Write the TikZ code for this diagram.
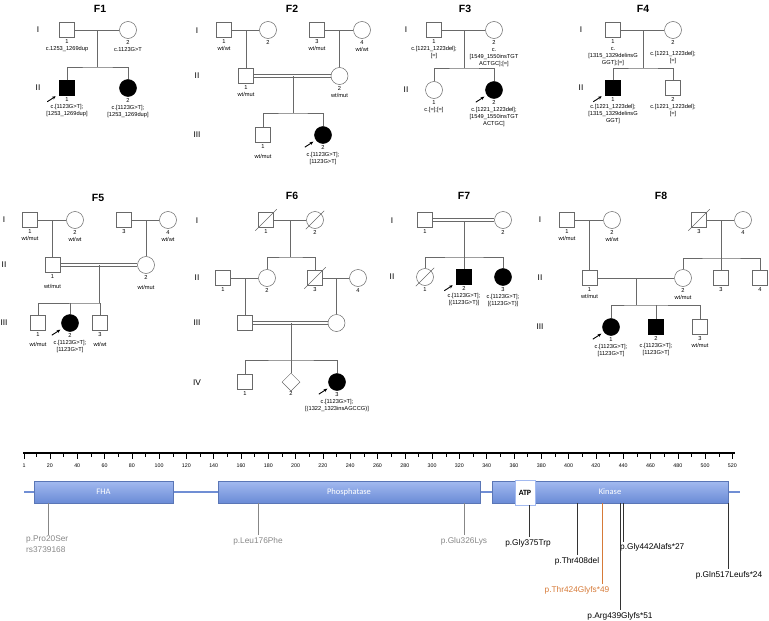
\documentclass[tikz,border=0pt]{standalone}
\usepackage{fontspec}
\setmainfont{Liberation Sans}
\newfontfamily\domainfont{Carlito}
\usepackage{tikz}
\usetikzlibrary{shapes.geometric}
\usetikzlibrary{arrows.meta, positioning, calc}
\usepackage{xcolor}
\definecolor{pedGray}{RGB}{105,105,105}
\definecolor{domainTop}{RGB}{163,186,240}
\definecolor{domainBottom}{RGB}{106,139,214}
\definecolor{backboneBlue}{RGB}{112,142,212}
\definecolor{variantGray}{RGB}{135,135,135}
\definecolor{variantOrange}{RGB}{214,122,56}
\tikzset{
    male/.style={rectangle, draw=pedGray, line width=0.5pt, minimum size=15pt, inner sep=0pt},
    female/.style={circle, draw=pedGray, line width=0.5pt, minimum size=17pt, inner sep=0pt},
    sexunknown/.style={diamond, draw=pedGray, line width=0.5pt, minimum width=18pt, minimum height=18pt, inner sep=0pt},
    affected/.style={fill=black, draw=black},
    rel/.style={draw=pedGray, line width=0.5pt},
    proband/.style={-{Stealth[length=3.6pt, width=3.2pt]}, line width=0.9pt},
    famname/.style={font=\bfseries\fontsize{10.5}{12}\selectfont},
    gen/.style={font=\fontsize{8.3}{9}\selectfont},
    info/.style={font=\fontsize{5.7}{7}\selectfont, align=center, inner sep=0pt},
    protdomain/.style={rectangle, inner sep=0pt, top color=domainTop, bottom color=domainBottom, draw=domainBottom!85!black, line width=0.3pt, text=white, font=\domainfont\fontsize{8.5}{10}\selectfont},
    atpbox/.style={rectangle, inner sep=0pt, fill=white, draw=domainTop, line width=0.4pt, font=\domainfont\bfseries\fontsize{8}{10}\selectfont},
    ticklabel/.style={font=\fontsize{5.3}{6}\selectfont, inner sep=0pt},
    variant/.style={font=\fontsize{8.3}{10}\selectfont, inner sep=0pt},
    varline/.style={line width=0.7pt, draw=black!80}
}
\newcommand{\deceased}[1]{\draw[rel] ([shift={(-3pt,-3pt)}]#1.south west) -- ([shift={(3pt,3pt)}]#1.north east);}
\newcommand{\probandarrow}[1]{\draw[proband] ([shift={(-12pt,-6pt)}]#1.south west) -- ([shift={(-3.5pt,-0.5pt)}]#1.south west);}
\newcommand{\consanguine}[2]{%
    \draw[rel] ([yshift=1.3pt]#1.east) -- ([yshift=1.3pt]#2.west);
    \draw[rel] ([yshift=-1.3pt]#1.east) -- ([yshift=-1.3pt]#2.west);}

\begin{document}
\begin{tikzpicture}[x=1pt, y=-1pt]
    \useasboundingbox (0,0) rectangle (769,621);

    % ---------------- F1 ----------------
    \node[famname] (f1) at (100,9) {F1};
    \node[gen] (f1g1) at (38,30) {I};
    \node[gen] (f1g2) at (38,88) {II};
    \node[male] (f1i1) at (67,30) {};
    \node[female] (f1i2) at (128,30) {};
    \node[male, affected] (f1ii1) at (67,88) {};
    \node[female, affected] (f1ii2) at (128,88) {};
    \draw[rel] (f1i1) -- (f1i2);
    \coordinate (f1m) at ($(f1i1)!0.5!(f1i2)$);
    \coordinate (f1s) at ($(f1m)+(0,37)$);
    \draw[rel] (f1m) -- (f1s);
    \draw[rel] (f1ii1.north) |- (f1s) -| (f1ii2.north);
    \node[info, below=1.5pt of f1i1] (f1t1) {1\\c.1253\_1269dup};
    \node[info, below=1.5pt of f1i2] (f1t2) {2\\c.1123G>T};
    \node[info, below=1.5pt of f1ii1] (f1t3) {1\\c.[1123G>T];\\{}[1253\_1269dup]};
    \node[info, below=1.5pt of f1ii2] (f1t4) {2\\c.[1123G>T];\\{}[1253\_1269dup]};
    \probandarrow{f1ii1}

    % ---------------- F2 ----------------
    \node[famname] (f2) at (292,9) {F2};
    \node[gen] (f2g1) at (197,31) {I};
    \node[gen] (f2g2) at (197,76) {II};
    \node[gen] (f2g3) at (197,135) {III};
    \node[male] (f2i1) at (224,30) {};
    \node[female] (f2i2) at (268,30) {};
    \node[male] (f2i3) at (317,30) {};
    \node[female] (f2i4) at (362,30) {};
    \node[male] (f2ii1) at (246,76) {};
    \node[female] (f2ii2) at (339.5,76) {};
    \node[male] (f2iii1) at (263,135) {};
    \node[female, affected] (f2iii2) at (323,135) {};
    \draw[rel] (f2i1) -- (f2i2);
    \draw[rel] (f2i3) -- (f2i4);
    \coordinate (f2m1) at ($(f2i1)!0.5!(f2i2)$);
    \coordinate (f2m2) at ($(f2i3)!0.5!(f2i4)$);
    \draw[rel] (f2m1) -- (f2ii1.north);
    \draw[rel] (f2m2) -- (f2ii2.north);
    \consanguine{f2ii1}{f2ii2}
    \coordinate (f2m3) at ($(f2ii1)!0.5!(f2ii2)$);
    \coordinate (f2s) at ($(f2m3)+(0,37)$);
    \draw[rel] (f2m3) -- (f2s);
    \draw[rel] (f2iii1.north) |- (f2s) -| (f2iii2.north);
    \node[info, below=1.5pt of f2i1] (f2t1) {1\\wt/wt};
    \node[info, below=1.5pt of f2i2] (f2t2) {2};
    \node[info, below=1.5pt of f2i3] (f2t3) {3\\wt/mut};
    \node[info, below=1.5pt of f2i4] (f2t4) {4\\wt/wt};
    \node[info, below=1.5pt of f2ii1] (f2t5) {1\\wt/mut};
    \node[info, below=1.5pt of f2ii2] (f2t6) {2\\wt/mut};
    \node[info, below=1.5pt of f2iii1] (f2t7) {1\\[3pt]wt/mut};
    \node[info, below=1.5pt of f2iii2] (f2t8) {2\\c.[1123G>T];\\{}[1123G>T]};
    \probandarrow{f2iii2}

    % ---------------- F3 ----------------
    \node[famname] (f3) at (465,9) {F3};
    \node[gen] (f3g1) at (406,30) {I};
    \node[gen] (f3g2) at (406,90) {II};
    \node[male] (f3i1) at (434,30) {};
    \node[female] (f3i2) at (494,30) {};
    \node[female] (f3ii1) at (434,90) {};
    \node[female, affected] (f3ii2) at (494,90) {};
    \draw[rel] (f3i1) -- (f3i2);
    \coordinate (f3m) at ($(f3i1)!0.5!(f3i2)$);
    \coordinate (f3s) at ($(f3m)+(0,38)$);
    \draw[rel] (f3m) -- (f3s);
    \draw[rel] (f3ii1.north) |- (f3s) -| (f3ii2.north);
    \node[info, below=1.5pt of f3i1] (f3t1) {1\\c.[1221\_1223del];\\{}[=]};
    \node[info, below=1.5pt of f3i2] (f3t2) {2\\c.\\{}[1549\_1550insTGT\\ACTGC];[=]};
    \node[info, below=1.5pt of f3ii1] (f3t3) {1\\c.[=];[=]};
    \node[info, below=1.5pt of f3ii2] (f3t4) {2\\c.[1221\_1223del];\\{}[1549\_1550insTGT\\ACTGC]};
    \probandarrow{f3ii2}

    % ---------------- F4 ----------------
    \node[famname] (f4) at (643,9) {F4};
    \node[gen] (f4g1) at (581,30) {I};
    \node[gen] (f4g2) at (581,88) {II};
    \node[male] (f4i1) at (613,30) {};
    \node[female] (f4i2) at (673,30) {};
    \node[male, affected] (f4ii1) at (613,88) {};
    \node[male] (f4ii2) at (673,88) {};
    \draw[rel] (f4i1) -- (f4i2);
    \coordinate (f4m) at ($(f4i1)!0.5!(f4i2)$);
    \coordinate (f4s) at ($(f4m)+(0,38)$);
    \draw[rel] (f4m) -- (f4s);
    \draw[rel] (f4ii1.north) |- (f4s) -| (f4ii2.north);
    \node[info, below=1.5pt of f4i1] (f4t1) {1\\c.\\{}[1315\_1329delinsG\\GGT];[=]};
    \node[info, below=1.5pt of f4i2] (f4t2) {2\\[4pt]c.[1221\_1223del];\\{}[=]};
    \node[info, below=1.5pt of f4ii1] (f4t3) {1\\c.[1221\_1223del];\\{}[1315\_1329delinsG\\GGT]};
    \node[info, below=1.5pt of f4ii2] (f4t4) {2\\c.[1221\_1223del];\\{}[=]};
    \probandarrow{f4ii1}

    % ---------------- F5 ----------------
    \node[famname] (f5) at (98,198) {F5};
    \node[gen] (f5g1) at (4,220) {I};
    \node[gen] (f5g2) at (4,265) {II};
    \node[gen] (f5g3) at (4,323) {III};
    \node[male] (f5i1) at (30,220) {};
    \node[female] (f5i2) at (75,220) {};
    \node[male] (f5i3) at (124,220) {};
    \node[female] (f5i4) at (168,220) {};
    \node[male] (f5ii1) at (52.5,265) {};
    \node[female] (f5ii2) at (146,265) {};
    \node[male] (f5iii1) at (38,323) {};
    \node[female, affected] (f5iii2) at (70,323) {};
    \node[male] (f5iii3) at (100,323) {};
    \draw[rel] (f5i1) -- (f5i2);
    \draw[rel] (f5i3) -- (f5i4);
    \coordinate (f5m1) at ($(f5i1)!0.5!(f5i2)$);
    \coordinate (f5m2) at ($(f5i3)!0.5!(f5i4)$);
    \draw[rel] (f5m1) -- (f5ii1.north);
    \draw[rel] (f5m2) -- (f5ii2.north);
    \consanguine{f5ii1}{f5ii2}
    \coordinate (f5m3) at ($(f5ii1)!0.5!(f5ii2)$);
    \coordinate (f5s) at ($(f5m3)+(0,38)$);
    \draw[rel] (f5m3) -- (f5s);
    \draw[rel] (f5iii1.north) |- (f5s) -| (f5iii3.north);
    \draw[rel] (f5iii2.north) -- (f5iii2 |- f5s);
    \node[info, below=1.5pt of f5i1] (f5t1) {1\\wt/mut};
    \node[info, below=1.5pt of f5i2] (f5t2) {2\\wt/wt};
    \node[info, below=1.5pt of f5i3] (f5t3) {3};
    \node[info, below=1.5pt of f5i4] (f5t4) {4\\wt/wt};
    \node[info, below=1.5pt of f5ii1] (f5t5) {1\\[3pt]wt/mut};
    \node[info, below=1.5pt of f5ii2] (f5t6) {2\\[3pt]wt/mut};
    \node[info, below=1.5pt of f5iii1] (f5t7) {1\\[3pt]wt/mut};
    \node[info, below=1.5pt of f5iii2] (f5t8) {2\\c.[1123G>T];\\{}[1123G>T]};
    \node[info, below=1.5pt of f5iii3] (f5t9) {3\\[3pt]wt/wt};
    \probandarrow{f5iii2}

    % ---------------- F6 ----------------
    \node[famname] (f6) at (292,196) {F6};
    \node[gen] (f6g1) at (197,221) {I};
    \node[gen] (f6g2) at (197,278) {II};
    \node[gen] (f6g3) at (197,323) {III};
    \node[gen] (f6g4) at (197,383) {IV};
    \node[male] (f6i1) at (266,220) {};
    \node[female] (f6i2) at (315,220) {};
    \node[male] (f6ii1) at (223,278) {};
    \node[female] (f6ii2) at (267,278) {};
    \node[male] (f6ii3) at (315,278) {};
    \node[female] (f6ii4) at (358,278) {};
    \node[male] (f6iii1) at (245,323) {};
    \node[female] (f6iii2) at (336.5,323) {};
    \node[male] (f6iv1) at (245,382) {};
    \node[sexunknown] (f6iv2) at (291,382) {};
    \node[female, affected] (f6iv3) at (337,382) {};
    \deceased{f6i1}
    \deceased{f6i2}
    \deceased{f6ii3}
    \draw[rel] (f6i1) -- (f6i2);
    \coordinate (f6m1) at ($(f6i1)!0.5!(f6i2)$);
    \coordinate (f6s1) at ($(f6m1)+(0,37)$);
    \draw[rel] (f6m1) -- (f6s1);
    \draw[rel] (f6ii2.north) |- (f6s1) -| (f6ii3.north);
    \draw[rel] (f6ii1) -- (f6ii2);
    \draw[rel] (f6ii3) -- (f6ii4);
    \coordinate (f6m2) at ($(f6ii1)!0.5!(f6ii2)$);
    \coordinate (f6m3) at ($(f6ii3)!0.5!(f6ii4)$);
    \draw[rel] (f6m2) -- (f6iii1.north);
    \draw[rel] (f6m3) -- (f6iii2.north);
    \consanguine{f6iii1}{f6iii2}
    \coordinate (f6m4) at ($(f6iii1)!0.5!(f6iii2)$);
    \coordinate (f6s2) at ($(f6m4)+(0,37)$);
    \draw[rel] (f6m4) -- (f6s2);
    \draw[rel] (f6iv1.north) |- (f6s2) -| (f6iv3.north);
    \draw[rel] (f6iv2.north) -- (f6iv2 |- f6s2);
    \node[info, below=1.5pt of f6i1] (f6t1) {1};
    \node[info, below=1.5pt of f6i2] (f6t2) {2};
    \node[info, below=1.5pt of f6ii1] (f6t3) {1};
    \node[info, below=1.5pt of f6ii2] (f6t4) {2};
    \node[info, below=1.5pt of f6ii3] (f6t5) {3};
    \node[info, below=1.5pt of f6ii4] (f6t6) {4};
    \node[info, below=1.5pt of f6iv1] (f6t7) {1};
    \node[info, below=0pt of f6iv2] (f6t8) {2};
    \node[info, below=1.5pt of f6iv3] (f6t9) {3\\c.[1123G>T];\\{}[(1322\_1323insAGCCG)]};
    \probandarrow{f6iv3}

    % ---------------- F7 ----------------
    \node[famname] (f7) at (464,196) {F7};
    \node[gen] (f7g1) at (392,221) {I};
    \node[gen] (f7g2) at (392,277) {II};
    \node[male] (f7i1) at (425,220) {};
    \node[female] (f7i2) at (503,220) {};
    \node[female] (f7ii1) at (425,277) {};
    \node[male, affected] (f7ii2) at (464,277) {};
    \node[female, affected] (f7ii3) at (503,277) {};
    \deceased{f7ii1}
    \consanguine{f7i1}{f7i2}
    \coordinate (f7m) at ($(f7i1)!0.5!(f7i2)$);
    \coordinate (f7s) at ($(f7m)+(0,37)$);
    \draw[rel] ([yshift=-1.3pt]f7m) -- (f7ii2.north);
    \draw[rel] (f7ii1.north) |- (f7s) -| (f7ii3.north);
    \node[info, below=1.5pt of f7i1] (f7t1) {1};
    \node[info, below=1.5pt of f7i2] (f7t2) {2};
    \node[info, below=1.5pt of f7ii1] (f7t3) {1};
    \node[info, below=1.5pt of f7ii2] (f7t4) {2\\c.[1123G>T];\\{}[(1123G>T)]};
    \node[info, below=1.5pt of f7ii3] (f7t5) {3\\c.[1123G>T];\\{}[(1123G>T)]};
    \probandarrow{f7ii2}

    % ---------------- F8 ----------------
    \node[famname] (f8) at (661,196) {F8};
    \node[gen] (f8g1) at (540,220) {I};
    \node[gen] (f8g2) at (540,278) {II};
    \node[gen] (f8g3) at (540,327) {III};
    \node[male] (f8i1) at (567,220) {};
    \node[female] (f8i2) at (612,220) {};
    \node[male] (f8i3) at (699,220) {};
    \node[female] (f8i4) at (743,220) {};
    \node[male] (f8ii1) at (589.5,278) {};
    \node[female] (f8ii2) at (683,278) {};
    \node[male] (f8ii3) at (721,278) {};
    \node[male] (f8ii4) at (760,278) {};
    \node[female, affected] (f8iii1) at (611,327) {};
    \node[male, affected] (f8iii2) at (656,327) {};
    \node[male] (f8iii3) at (700,327) {};
    \deceased{f8i3}
    \draw[rel] (f8i1) -- (f8i2);
    \draw[rel] (f8i3) -- (f8i4);
    \coordinate (f8m1) at ($(f8i1)!0.5!(f8i2)$);
    \coordinate (f8m2) at ($(f8i3)!0.5!(f8i4)$);
    \coordinate (f8s1) at ($(f8m2)+(0,38)$);
    \draw[rel] (f8m1) -- (f8ii1.north);
    \draw[rel] (f8m2) -- (f8s1);
    \draw[rel] (f8ii2.north) |- (f8s1) -| (f8ii4.north);
    \draw[rel] (f8ii3.north) -- (f8ii3 |- f8s1);
    \draw[rel] (f8ii1) -- (f8ii2);
    \coordinate (f8m3) at ($(f8ii1)!0.5!(f8ii2)$);
    \coordinate (f8s2) at ($(f8m3)+(0,27)$);
    \draw[rel] (f8m3) -- (f8s2);
    \draw[rel] (f8iii1.north) |- (f8s2) -| (f8iii3.north);
    \draw[rel] (f8iii2.north) -- (f8iii2 |- f8s2);
    \node[info, below=1.5pt of f8i1] (f8t1) {1\\wt/mut};
    \node[info, below=1.5pt of f8i2] (f8t2) {2\\wt/wt};
    \node[info, below=1.5pt of f8i3] (f8t3) {3};
    \node[info, below=1.5pt of f8i4] (f8t4) {4};
    \node[info, below=1.5pt of f8ii1] (f8t5) {1\\wt/mut};
    \node[info, below=1.5pt of f8ii2] (f8t6) {2\\wt/mut};
    \node[info, below=1.5pt of f8ii3] (f8t7) {3};
    \node[info, below=1.5pt of f8ii4] (f8t8) {4};
    \node[info, below=1.5pt of f8iii1] (f8t9) {1\\c.[1123G>T];\\{}[1123G>T]};
    \node[info, below=1.5pt of f8iii2] (f8t10) {2\\c.[1123G>T];\\{}[1123G>T]};
    \node[info, below=1.5pt of f8iii3] (f8t11) {3\\wt/mut};
    \probandarrow{f8iii1}

    % ---------------- residue ruler ----------------
    \draw[line width=2.6pt] (23,453) -- (735,453);
    \draw[line width=0.5pt] (24,453) -- (24,459);
    \node[ticklabel] (r1) at (24,466) {1};
    \foreach \n in {10,20,...,520}{
        \pgfmathsetmacro{\tx}{22.6+1.365*\n}
        \pgfmathtruncatemacro{\major}{mod(\n,20)==0}
        \ifnum\major=1
            \draw[line width=0.5pt] (\tx,453) -- (\tx,459);
            \node[ticklabel] (r\n) at (\tx,466) {\n};
        \else
            \draw[line width=0.4pt] (\tx,453) -- (\tx,457);
        \fi
    }

    % ---------------- protein domains ----------------
    \draw[backboneBlue, line width=1.4pt] (24,492) -- (740,492);
    \node[protdomain, minimum width=139pt, minimum height=22pt] (fha) at (103.5,492) {FHA};
    \node[protdomain, minimum width=262pt, minimum height=22pt] (phos) at (349,492) {Phosphatase};
    \node[protdomain, minimum width=236pt, minimum height=22pt] (kin) at (610,492) {Kinase};
    \node[atpbox, minimum width=20pt, minimum height=25pt] (atp) at (525,492.5) {ATP};

    % ---------------- variants ----------------
    \node[variant, text=variantGray, align=left, anchor=north west] (v20) at (26,536) {p.Pro20Ser\\rs3739168};
    \node[variant, text=variantGray] (v176) at (258,541) {p.Leu176Phe};
    \node[variant, text=variantGray] (v326) at (464,541) {p.Glu326Lys};
    \node[variant] (v375) at (528,543) {p.Gly375Trp};
    \node[variant] (v408) at (577,561) {p.Thr408del};
    \node[variant, text=variantOrange] (v424) at (577,590) {p.Thr424Glyfs*49};
    \node[variant] (v439) at (620,616) {p.Arg439Glyfs*51};
    \node[variant, anchor=west] (v442) at (620,547) {p.Gly442Alafs*27};
    \node[variant] (v517) at (729,575) {p.Gln517Leufs*24};
    \coordinate (m20) at (48,503);
    \coordinate (m176) at (258,503);
    \coordinate (m326) at (464,503);
    \coordinate (m375) at (529,505);
    \coordinate (m408) at (577,503);
    \coordinate (m424) at (602,503);
    \coordinate (m439) at (620,503);
    \coordinate (m442) at (623.5,503);
    \coordinate (m517) at (728,503);
    \draw[varline, draw=variantGray] (m20) -- ([yshift=1pt]m20 |- v20.north);
    \draw[varline, draw=variantGray] (m176) -- ([yshift=2pt]m176 |- v176.north);
    \draw[varline, draw=variantGray] (m326) -- ([yshift=2pt]m326 |- v326.north);
    \draw[varline] (m375) -- ([yshift=2pt]m375 |- v375.north);
    \draw[varline] (m408) -- ([yshift=2pt]m408 |- v408.north);
    \draw[varline, draw=variantOrange] (m424) -- ([yshift=2pt]m424 |- v424.north);
    \draw[varline] (m439) -- ([yshift=2pt]m439 |- v439.north);
    \draw[varline] (m442) -- ([yshift=1pt]m442 |- v442.north);
    \draw[varline] (m517) -- ([yshift=2pt]m517 |- v517.north);
\end{tikzpicture}
\end{document}
